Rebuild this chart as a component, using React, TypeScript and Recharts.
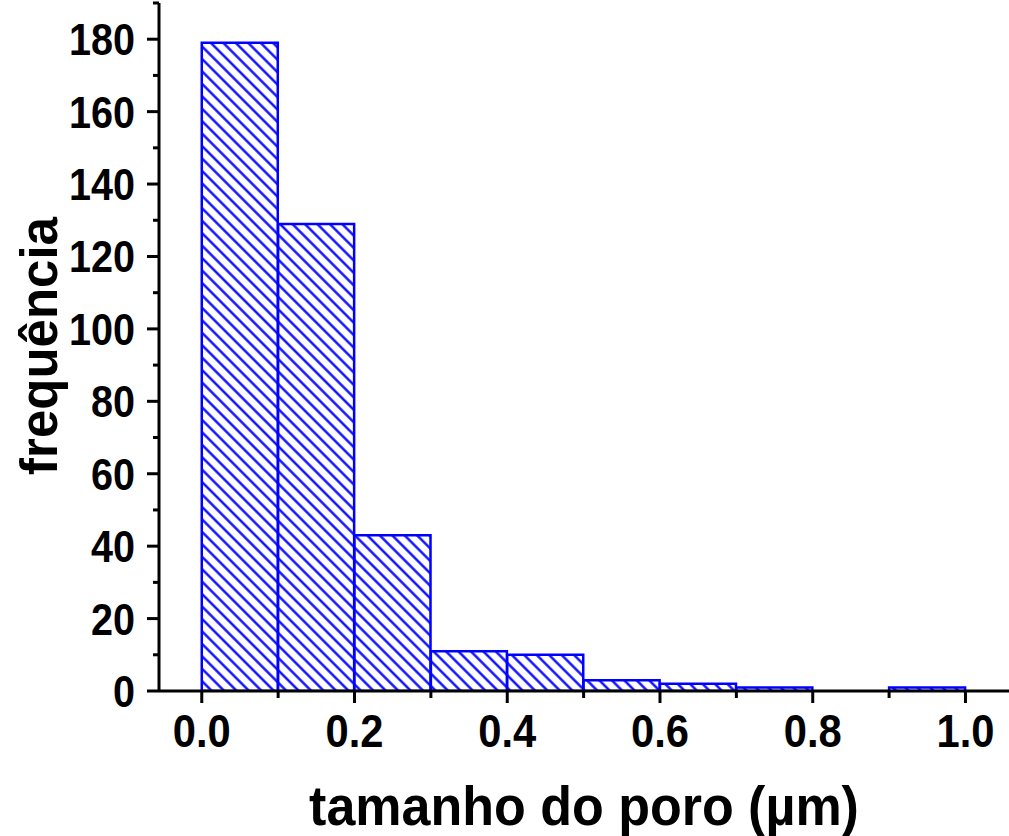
import React from 'react';
import { BarChart, Bar, XAxis, YAxis } from 'recharts';

const binCenters = [0.05, 0.15, 0.25, 0.35, 0.45, 0.55, 0.65, 0.75, 0.85, 0.95];
const frequencies = [179, 129, 43, 11, 10, 3, 2, 1, 0, 1];
const xTicks = [0, 0.1, 0.2, 0.3, 0.4, 0.5, 0.6, 0.7, 0.8, 0.9, 1.0];
const yTicks = [0, 10, 20, 30, 40, 50, 60, 70, 80, 90, 100, 110, 120, 130, 140, 150, 160, 170, 180, 190];
const xLabel = 'tamanho do poro (µm)';
const yLabel = 'frequência';

const data = binCenters.map((x, i) => ({ x, freq: frequencies[i] }));

const FONT = '"Liberation Sans", Arial, Helvetica, sans-serif';
const BLUE = '#0000ff';

const XTick = (props: any) => {
  const { x, y, payload } = props;
  const v = payload.value as number;
  const major = Math.round(v * 10) % 2 === 0;
  return (
    <g>
      <line x1={x} x2={x} y1={y} y2={y + (major ? 12 : 7)} stroke="#000" strokeWidth={3} />
      {major && (
        <text
          x={0}
          y={0}
          transform={`translate(${x}, ${y + 56}) scale(0.97, 1.06)`}
          textAnchor="middle"
          fontFamily={FONT}
          fontWeight="bold"
          fontSize={43}
          fill="#000"
        >
          {v.toFixed(1)}
        </text>
      )}
    </g>
  );
};

const YTick = (props: any) => {
  const { x, y, payload } = props;
  const v = payload.value as number;
  const major = v % 20 === 0;
  return (
    <g>
      <line x1={x} x2={x - (major ? 12 : 6)} y1={y} y2={y} stroke="#000" strokeWidth={3} />
      {major && (
        <text
          x={0}
          y={0}
          transform={`translate(${x - 24}, ${y + 16}) scale(0.92, 1.04)`}
          textAnchor="end"
          fontFamily={FONT}
          fontWeight="bold"
          fontSize={43}
          fill="#000"
        >
          {String(v)}
        </text>
      )}
    </g>
  );
};

export default function App() {
  return (
    <div style={{ position: 'absolute', left: 0, top: 0, width: 1009, height: 836, background: '#fff' }}>
      <BarChart
        width={1009}
        height={836}
        data={data}
        margin={{ top: 3, right: 0, left: 0, bottom: 0 }}
        barCategoryGap={0}
        barGap={0}
      >
        <defs>
          <pattern id="hatch" patternUnits="userSpaceOnUse" width={8.8} height={8.8} patternTransform="rotate(-45)">
            <rect x={0} y={0} width={8.8} height={8.8} fill="#fff" />
            <line x1={4.4} y1={0} x2={4.4} y2={8.8} stroke={BLUE} strokeWidth={2.3} />
          </pattern>
        </defs>
        <XAxis
          dataKey="x"
          type="number"
          domain={[-0.056, 1.057]}
          ticks={xTicks}
          allowDataOverflow
          height={145}
          tickSize={0}
          tickMargin={0}
          tickLine={false}
          axisLine={{ stroke: '#000', strokeWidth: 3 }}
          tick={<XTick />}
          interval={0}
        />
        <YAxis
          type="number"
          domain={[0, 190]}
          ticks={yTicks}
          allowDataOverflow
          width={159}
          tickSize={0}
          tickMargin={0}
          tickLine={false}
          axisLine={{ stroke: '#000', strokeWidth: 3 }}
          tick={<YTick />}
          interval={0}
        />
        <Bar dataKey="freq" fill="url(#hatch)" stroke={BLUE} strokeWidth={2.5} isAnimationActive={false} />
        <text
          x={0}
          y={0}
          transform="translate(584, 825) scale(1, 1.07)"
          textAnchor="middle"
          fontFamily={FONT}
          fontWeight="bold"
          fontSize={52}
          fill="#000"
        >
          {xLabel}
        </text>
        <text
          x={0}
          y={0}
          transform="translate(57, 346) rotate(-90)"
          textAnchor="middle"
          fontFamily={FONT}
          fontWeight="bold"
          fontSize={51}
          fill="#000"
        >
          {yLabel}
        </text>
      </BarChart>
    </div>
  );
}
